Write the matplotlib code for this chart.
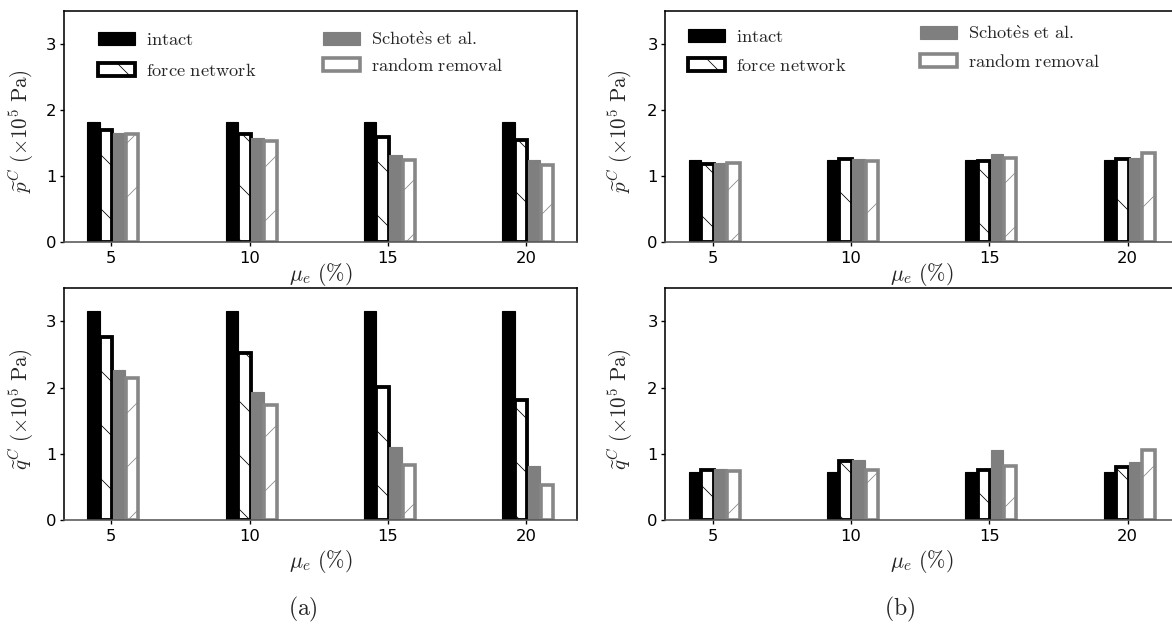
import matplotlib
matplotlib.use("Agg")
import matplotlib.pyplot as plt
import numpy as np

# ---------------- data ----------------
mu_e = [5, 10, 15, 20]
series_labels = [r'$\mathrm{intact}$', r'$\mathrm{force\ network}$',
                 r'$\mathrm{Schot\grave{e}s\ et\ al.}$', r'$\mathrm{random\ removal}$']

# panel (a)
p_a_intact = [1.81, 1.81, 1.81, 1.81]
p_a_force = [1.69, 1.63, 1.58, 1.54]
p_a_schotes = [1.65, 1.57, 1.32, 1.245]
p_a_random = [1.63, 1.52, 1.245, 1.165]

q_a_intact = [3.15, 3.15, 3.15, 3.15]
q_a_force = [2.77, 2.53, 2.01, 1.82]
q_a_schotes = [2.26, 1.93, 1.10, 0.82]
q_a_random = [2.15, 1.73, 0.83, 0.53]

# panel (b)
p_b_intact = [1.24, 1.24, 1.24, 1.24]
p_b_force = [1.18, 1.25, 1.22, 1.26]
p_b_schotes = [1.19, 1.26, 1.33, 1.27]
p_b_random = [1.19, 1.23, 1.27, 1.35]

q_b_intact = [0.72, 0.72, 0.72, 0.72]
q_b_force = [0.75, 0.89, 0.76, 0.80]
q_b_schotes = [0.77, 0.91, 1.055, 0.87]
q_b_random = [0.74, 0.75, 0.82, 1.05]

y_ticks = [0, 1, 2, 3]

# ---------------- style ----------------
DPI = 162
W, H = 1172, 625
plt.rcParams['mathtext.fontset'] = 'cm'
plt.rcParams['hatch.linewidth'] = 0.35
plt.rcParams['font.family'] = ['DejaVu Sans']

TXT = '#262626'
GRAY = '#7f7f7f'
GRAY_EDGE = '#878787'
CM_SIZE = 8.2

fig = plt.figure(figsize=(W / DPI, H / DPI), dpi=DPI)


def px_axes(x0, top, x1, bottom):
    return fig.add_axes([x0 / W, 1 - bottom / H, (x1 - x0) / W, (bottom - top) / H])


offsets = [-0.64, -0.19, 0.28, 0.76]
width = 0.45


def draw_panel(ax, vals, ylabel, xlab_y):
    x = np.array(mu_e, dtype=float)
    b0 = ax.bar(x + offsets[0], vals[0], width, color='black', edgecolor='black',
                linewidth=0.5, label=series_labels[0])
    b1 = ax.bar(x + offsets[1], vals[1], width, facecolor='white', edgecolor='black',
                linewidth=1.7, hatch='\\', label=series_labels[1])
    b2 = ax.bar(x + offsets[2], vals[2], width, color=GRAY, edgecolor=GRAY,
                linewidth=0.5, label=series_labels[2])
    b3 = ax.bar(x + offsets[3], vals[3], width, facecolor='white', edgecolor=GRAY_EDGE,
                linewidth=1.6, hatch='/', label=series_labels[3])
    ax.set_ylim(0, 3.5)
    ax.set_yticks(y_ticks)
    ax.set_xticks(mu_e)
    ax.tick_params(axis='both', labelsize=7.3, length=1.8, width=0.6, colors='black')
    ax.tick_params(axis='x', pad=2.4)
    ax.tick_params(axis='y', pad=1.6)
    for s in ['top', 'left', 'right']:
        ax.spines[s].set_linewidth(0.7)
        ax.spines[s].set_color('black')
    ax.spines['bottom'].set_linewidth(0.7)
    ax.spines['bottom'].set_color('#555555')
    ax.set_ylabel(ylabel, fontsize=9.3, color=TXT, va='center')
    ax.yaxis.set_label_coords(-0.083, 0.48)
    ax.set_xlabel(r'$\mu_e\ (\%)$', fontsize=9.8, color=TXT, va='center')
    ax.xaxis.set_label_coords(0.5, xlab_y)
    return [b0, b1, b2, b3]


def add_legends(ax, handles, pos1, pos2, sp1, sp2):
    kw = dict(frameon=False, fontsize=CM_SIZE, handlelength=2.0, handleheight=0.7,
              handletextpad=0.6, borderpad=0.0, borderaxespad=0.0, loc='upper left',
              labelcolor=TXT)
    l1 = ax.legend(handles[:2], series_labels[:2], bbox_to_anchor=pos1,
                   labelspacing=sp1, **kw)
    ax.add_artist(l1)
    ax.legend(handles[2:], series_labels[2:], bbox_to_anchor=pos2,
              labelspacing=sp2, **kw)


p_lab = r'$\widetilde{p}^{C}\ (\times 10^5\ \mathrm{Pa})$'
q_lab = r'$\widetilde{q}^{C}\ (\times 10^5\ \mathrm{Pa})$'

# left panels (a)
ax_a1 = px_axes(64, 10.7, 576.8, 241.7)
h = draw_panel(ax_a1, [p_a_intact, p_a_force, p_a_schotes, p_a_random], p_lab, -0.144)
add_legends(ax_a1, h, (0.066, 0.912), (0.505, 0.912), 0.72, 0.45)

ax_a2 = px_axes(64, 288.3, 576.8, 520)
draw_panel(ax_a2, [q_a_intact, q_a_force, q_a_schotes, q_a_random], q_lab, -0.181)

# right panels (b) -- axes extend past the right edge of the figure
ax_b1 = px_axes(665.3, 10.7, 1178.1, 241.7)
h = draw_panel(ax_b1, [p_b_intact, p_b_force, p_b_schotes, p_b_random], p_lab, -0.144)
ax_b1.yaxis.set_label_coords(-0.087, 0.48)
add_legends(ax_b1, h, (0.045, 0.925), (0.496, 0.94), 0.6, 0.55)

ax_b2 = px_axes(665.3, 288.3, 1178.1, 520)
draw_panel(ax_b2, [q_b_intact, q_b_force, q_b_schotes, q_b_random], q_lab, -0.181)
ax_b2.yaxis.set_label_coords(-0.087, 0.48)

fig.text(303 / W, 1 - 609 / H, r'$\mathrm{(a)}$', fontsize=10.5, color=TXT,
         ha='center', va='center')
fig.text(900 / W, 1 - 609 / H, r'$\mathrm{(b)}$', fontsize=10.5, color=TXT,
         ha='center', va='center')

fig.savefig('out.png', dpi=DPI)
